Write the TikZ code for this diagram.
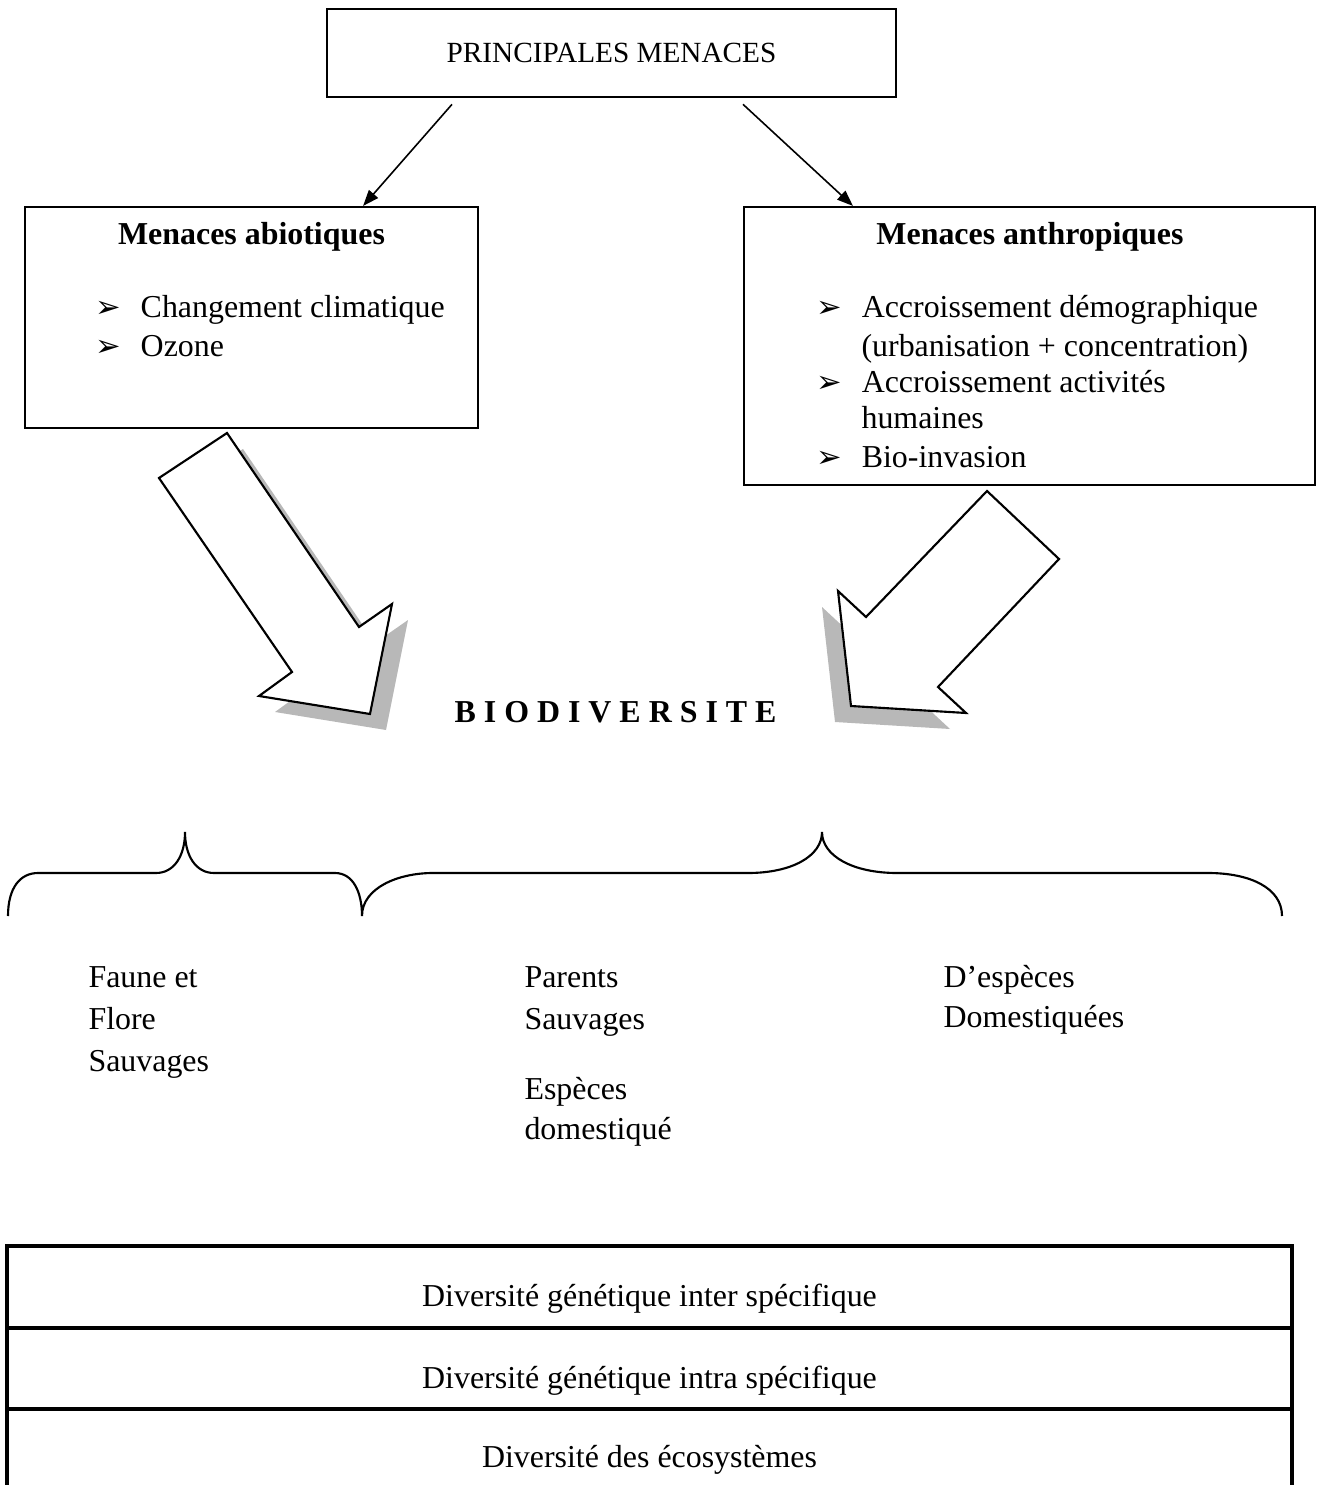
\documentclass[tikz,border=0pt]{standalone}
\usepackage{fontspec}
\setmainfont{Liberation Serif}
\newfontfamily\symbfont{DejaVu Sans}
\usetikzlibrary{arrows.meta}

\def\ll{0.376pt}
\definecolor{ombre}{gray}{0.72}

\begin{document}
\begin{tikzpicture}[x=\ll, y=-\ll,
  every node/.style={font=\fontsize{12}{14}\selectfont},
  boite/.style={draw, thick, inner sep=0pt},
  titre/.style={anchor=base, font=\fontsize{12}{14}\selectfont\bfseries},
  ligne/.style={anchor=base west, inner sep=0pt},
  puce/.style={ligne, execute at begin node={\makebox[17pt][l]{\symbfont\fontsize{11.5}{12}\selectfont ➢}}},
  fleche/.style={-{Triangle[length=6pt,width=4.5pt]}, semithick},
  grosse/.style={draw, thick, fill=white, line join=miter},
  tableau/.style={line width=1.25pt}]
\useasboundingbox (0,0) rectangle (1319,1485);

% boites du haut
\node[boite, line width=1pt, minimum width=569*\ll, minimum height=88*\ll, font=\fontsize{11}{13}\selectfont] (menaces) at (611.5,53) {PRINCIPALES MENACES};
\node[boite, minimum width=453*\ll, minimum height=221*\ll] (abio) at (251.5,317.5) {};
\node[boite, minimum width=571*\ll, minimum height=278*\ll] (anthro) at (1029.5,346) {};

\node[titre] (abiot) at (251.5,245) {Menaces abiotiques};
\node[puce] (ab1) at (95,318) {Changement climatique};
\node[puce] (ab2) at (95,357) {Ozone};

\node[titre] (anthrot) at (1030,245) {Menaces anthropiques};
\node[puce] (an1) at (816,318) {Accroissement démographique};
\node[ligne] (an2) at (861,357) {(urbanisation + concentration)};
\node[puce] (an3) at (816,393) {Accroissement activités};
\node[ligne] (an4) at (861,429) {humaines};
\node[puce] (an5) at (816,467) {Bio-invasion};

\draw[fleche] ([xshift=-159.5*\ll, yshift=-6*\ll]menaces.south) -- ([xshift=-116*\ll]abio.north east);
\draw[fleche] ([xshift=131.5*\ll, yshift=-6*\ll]menaces.south) -- ([xshift=110*\ll]anthro.north west);

% grosses fleches avec ombre
\fill[ombre, shift={(16,16)}] (227,433) -- (159,478) -- (292,672) -- (259,696) -- (370,714) -- (392,604) -- (359,627) -- cycle;
\draw[grosse] (227,433) -- (159,478) -- (292,672) -- (259,696) -- (370,714) -- (392,604) -- (359,627) -- cycle;
\fill[ombre, shift={(-16,16)}] (987,491) -- (1059,559) -- (938,687) -- (966,713) -- (851,706) -- (838,591) -- (866,617) -- cycle;
\draw[grosse] (987,491) -- (1059,559) -- (938,687) -- (966,713) -- (851,706) -- (838,591) -- (866,617) -- cycle;

\node[titre, anchor=base east, inner sep=0pt] (biodiv) at (777,722) {B I O D I V E R S I T E};

% accolades
\draw[thick] (8,916) .. controls (8,888) and (20,873) .. (38,873) -- (156,873)
  .. controls (174,873) and (185,856) .. (185,832)
  .. controls (185,856) and (196,873) .. (214,873) -- (335,873)
  .. controls (353,873) and (362,892) .. (362,916)
  .. controls (362,888) and (398,873) .. (433,873) -- (748,873)
  .. controls (792,873) and (822,856) .. (822,832)
  .. controls (822,856) and (853,873) .. (897,873) -- (1208,873)
  .. controls (1250,873) and (1282,888) .. (1282,916);

\foreach \t [count=\i] in {Faune et, Flore, Sauvages}
  \node[ligne] (faune\i) at (88,945+42*\i) {\t};
\foreach \t/\y [count=\i] in {Parents/987, Sauvages/1029, Espèces/1099, domestiqué/1139}
  \node[ligne] (parents\i) at (524,\y) {\t};
\foreach \t [count=\i] in {D’espèces, Domestiquées}
  \node[ligne] (domest\i) at (943,947+40*\i) {\t};

% tableau du bas
\draw[tableau] (7,1485) -- (7,1246) -- (1292,1246) -- (1292,1485);
\draw[tableau] (7,1328) -- (1292,1328);
\draw[tableau] (7,1409) -- (1292,1409);
\node[anchor=base] (inter) at (649.5,1306) {Diversité génétique inter spécifique};
\node[anchor=base] (intra) at (649.5,1388) {Diversité génétique intra spécifique};
\node[anchor=base] (eco) at (649.5,1467) {Diversité des écosystèmes};
\end{tikzpicture}
\end{document}
